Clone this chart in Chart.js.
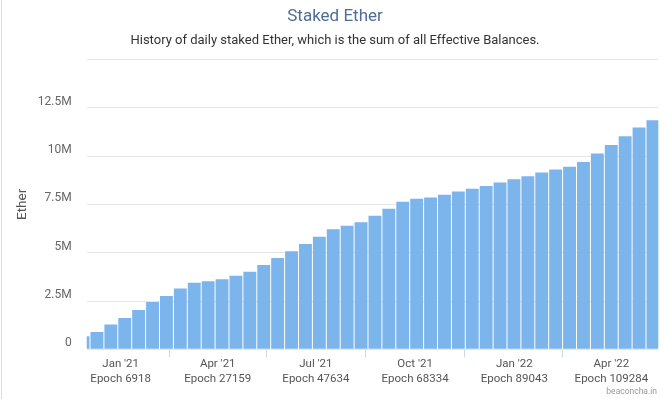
<!DOCTYPE html>
<html>
<head>
<meta charset="utf-8">
<script src="https://cdn.jsdelivr.net/npm/chart.js@4.4.0/dist/chart.umd.min.js"></script>
<style>
html,body{margin:0;padding:0;background:#ffffff;}
#wrap{position:relative;width:666px;height:399px;overflow:hidden;background:#ffffff;}
#wrap canvas{position:absolute;left:0;top:0;}
#edge{position:absolute;left:1px;top:0;width:1px;height:399px;background:#dcdcdc;pointer-events:none;}
</style>
</head>
<body>
<div id="wrap"><canvas id="c" width="666" height="399"></canvas><div id="edge"></div></div>
<script>
const titleText = 'Staked Ether';
const subtitleText = 'History of daily staked Ether, which is the sum of all Effective Balances.';
const yAxisTitle = 'Ether';
const creditText = 'beaconcha.in';

// Start date of each visible column (the first one starts at genesis)
const periodStarts = [
  '2020-12-01','2020-12-04','2020-12-17','2020-12-30','2021-01-12','2021-01-25','2021-02-06',
  '2021-02-19','2021-03-04','2021-03-17','2021-03-30','2021-04-12','2021-04-25','2021-05-08',
  '2021-05-21','2021-06-02','2021-06-15','2021-06-28','2021-07-11','2021-07-24','2021-08-06',
  '2021-08-19','2021-09-01','2021-09-14','2021-09-26','2021-10-09','2021-10-22','2021-11-04',
  '2021-11-17','2021-11-30','2021-12-13','2021-12-26','2022-01-08','2022-01-20','2022-02-02',
  '2022-02-15','2022-02-28','2022-03-13','2022-03-26','2022-04-08','2022-04-21','2022-05-04'
];

// Staked Ether in millions, read at the middle of each column
const stakedEtherM = [
  0.67, 0.90, 1.28, 1.62, 2.03, 2.45, 2.76,
  3.15, 3.44, 3.52, 3.63, 3.81, 4.02, 4.36,
  4.72, 5.08, 5.45, 5.83, 6.22, 6.40, 6.58,
  6.91, 7.27, 7.64, 7.79, 7.86, 8.00, 8.17,
  8.31, 8.45, 8.64, 8.80, 8.96, 9.15, 9.30,
  9.45, 9.70, 10.14, 10.58, 11.03, 11.48, 11.85
];

// Date axis: days since 2020-12-01
const totalDays = 530;
const monthTickDays = [31, 121, 212, 304, 396, 486];
const monthTickLabels = ["Jan '21", "Apr '21", "Jul '21", "Oct '21", "Jan '22", "Apr '22"];
const monthTickEpochs = ['Epoch 6918', 'Epoch 27159', 'Epoch 47634', 'Epoch 68334', 'Epoch 89043', 'Epoch 109284'];

// Value axis
const yMax = 15000000;
const yStep = 2500000;

const FONT = 'Roboto';

const creditPlugin = {
  id: 'credit',
  afterDraw(chart) {
    const ctx = chart.ctx;
    ctx.save();
    ctx.font = '8.5px ' + FONT;
    ctx.fillStyle = '#999999';
    ctx.textAlign = 'right';
    ctx.textBaseline = 'middle';
    ctx.fillText(creditText, chart.width - 9, chart.height - 7.5);
    ctx.restore();
  }
};

new Chart(document.getElementById('c'), {
  type: 'bar',
  data: {
    labels: periodStarts,
    datasets: [{
      label: 'Staked Ether',
      data: stakedEtherM.map((v, i) => ({ x: i, y: v * 1e6 })),
      xAxisID: 'xp',
      yAxisID: 'y',
      backgroundColor: '#7cb5ec',
      borderWidth: 0,
      categoryPercentage: 1,
      barPercentage: 0.928,
      clip: 0
    }]
  },
  options: {
    responsive: false,
    animation: false,
    devicePixelRatio: 1,
    layout: { padding: { left: 11.7, right: 7.7, top: 0, bottom: 0 } },
    plugins: {
      legend: { display: false },
      tooltip: { enabled: false },
      title: {
        display: true, text: titleText, color: '#4f6d98',
        font: { family: FONT, size: 17, weight: 'normal', lineHeight: 1.2 },
        padding: { top: 7, bottom: 3 }
      },
      subtitle: {
        display: true, text: subtitleText, color: '#333333',
        font: { family: FONT, size: 13, weight: 'normal', lineHeight: 1.2 },
        padding: { top: 3, bottom: 10.5 }
      }
    },
    scales: {
      xp: {
        type: 'linear', display: false, offset: false,
        min: 0.263, max: 41.385
      },
      x: {
        type: 'linear', position: 'bottom', offset: false,
        min: -0.5, max: totalDays - 0.5,
        afterBuildTicks: (scale) => { scale.ticks = monthTickDays.map(v => ({ value: v })); },
        afterFit: (scale) => { scale.height = 49.7; },
        grid: { drawOnChartArea: false, drawTicks: true, tickLength: 8, color: '#ccd6eb', lineWidth: 1 },
        border: { display: false },
        ticks: {
          autoSkip: false, maxRotation: 0, padding: 0, color: '#555555',
          font: { family: FONT, size: 11.5, lineHeight: 1.25 },
          callback: (value) => {
            const i = monthTickDays.indexOf(value);
            return i >= 0 ? [monthTickLabels[i], monthTickEpochs[i]] : null;
          }
        }
      },
      y: {
        type: 'linear', min: 0, max: yMax,
        afterFit: (scale) => { scale.width = 75; },
        grid: { color: '#e6e6e6', lineWidth: 1, drawTicks: false },
        border: { display: false },
        ticks: {
          stepSize: yStep, color: '#666666', padding: 15, labelOffset: -6,
          font: { family: FONT, size: 12 },
          callback: (v) => v === 0 ? '0' : (v >= yMax ? '' : (v / 1e6) + 'M')
        },
        title: {
          display: true, text: yAxisTitle, color: '#555555',
          font: { family: FONT, size: 13.5, weight: 'normal' },
          padding: { top: 3, bottom: 0 }
        }
      }
    }
  },
  plugins: [creditPlugin]
});
</script>
</body>
</html>
